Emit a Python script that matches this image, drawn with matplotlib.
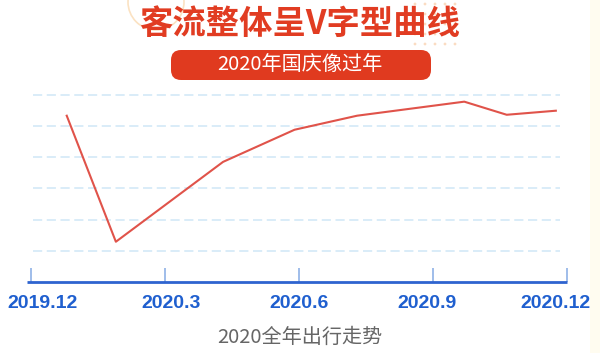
import matplotlib
matplotlib.use("Agg")
import numpy as np
import matplotlib.pyplot as plt
from matplotlib.patches import FancyBboxPatch, Circle, Rectangle

plt.rcParams['font.family'] = ['Noto Sans CJK SC', 'DejaVu Sans']

# months after 2019.12, and passenger index (grid units)
months = [0.8, 1.9, 4.3, 5.9, 7.3, 9.7, 10.65, 11.75]
flow = [4.33, 0.29, 2.85, 3.88, 4.33, 4.78, 4.36, 4.49]

tick_pos = [0, 3, 6, 9, 12]
tick_labels = ["2019.12", "2020.3", "2020.6", "2020.9", "2020.12"]
grid_levels = [0, 1, 2, 3, 4, 5]

title = "客流整体呈V字型曲线"
subtitle = "2020年国庆像过年"
caption = "2020全年出行走势"

W, H = 600, 353
fig = plt.figure(figsize=(W / 100, H / 100), dpi=100)

# background layer in pixel coordinates
bg = fig.add_axes([0, 0, 1, 1])
bg.set_xlim(0, W)
bg.set_ylim(H, 0)
bg.axis('off')

bg.add_patch(Rectangle((590, 0), 10, H, color="#fffcf0", lw=0))
bg.add_patch(Circle((156, 2), 28, fill=False, ec="#fbe2c2", lw=1.2))
for gx in range(415, 460, 10):
    for gy in range(4, 50, 10):
        bg.add_patch(Circle((gx, gy), 1.4, color="#fbdcc2", lw=0))

bg.text(300, 24, title, ha='center', va='center', fontsize=24,
        fontweight='heavy', color="#e13c22")
bg.add_patch(FancyBboxPatch((171, 50), 260, 30,
                            boxstyle="round,pad=0,rounding_size=10",
                            fc="#e03a1f", ec="none"))
bg.text(300, 64, subtitle, ha='center', va='center', fontsize=14.5,
        color="white")
bg.text(300, 337, caption, ha='center', va='center', fontsize=14.5,
        color="#666666")

# main chart
left, right = 31, 567
top_val, bot_val = 5.5, -1
unit = 31.2
y_bot = 282
y_top = y_bot - (top_val - bot_val) * unit
ax = fig.add_axes([left / W, 1 - y_bot / H, (right - left) / W, (y_bot - y_top) / H])
ax.patch.set_alpha(0)
ax.set_xlim(0, 12)
ax.set_ylim(bot_val, top_val)
for s in ax.spines.values():
    s.set_visible(False)

ax.hlines(grid_levels, 0.05, 11.85, colors="#cfe7f6", lw=1.1,
          linestyles=(0, (6, 3)))
ax.plot(months, flow, color="#e0534a", lw=1.5)

ax.plot([-0.09, 12], [bot_val, bot_val], color="#2e63cf", lw=2,
        clip_on=False, solid_capstyle='butt')
ax.set_xticks(tick_pos)
ax.set_xticklabels([])
ax.tick_params(axis='x', direction='in', length=10, width=1.2,
               color="#8fb1e6")
ax.set_yticks([])

# labels are spread evenly, not centred on the ticks
label_x = np.linspace(0.25, 11.75, len(tick_labels))
for lx, lab in zip(label_x, tick_labels):
    ax.annotate(lab, (lx, bot_val), xytext=(0, -9), textcoords='offset points',
                ha='center', va='top', fontsize=14, fontweight='bold',
                fontfamily=['Liberation Sans', 'DejaVu Sans'],
                color="#1f5fcf", annotation_clip=False)

fig.savefig("out.png", dpi=100)
